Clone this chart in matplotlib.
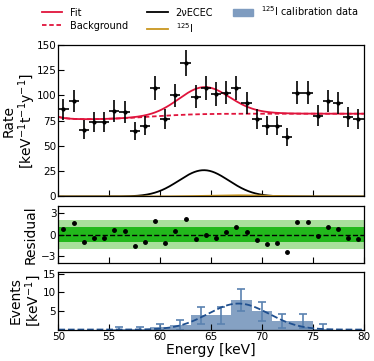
import numpy as np
import matplotlib
matplotlib.use("Agg")
import matplotlib.pyplot as plt
from matplotlib.patches import Patch
from matplotlib.lines import Line2D
from math import erf

# ---------------- data ----------------
energy = np.arange(50.5, 80.0, 1.0)  # bin centres [keV]
rate = [86.2, 94.5, 66.0, 73.3, 73.3, 84.5, 83.5, 64.7, 70.0, 107.0,
        76.6, 99.8, 132.0, 98.4, 107.4, 101.4, 102.7, 107.4, 92.2, 76.6,
        70.0, 70.0, 58.8, 102.7, 102.7, 80.0, 94.2, 92.2, 78.3, 76.6]
rate_err = [10.6, 11.1, 9.3, 9.8, 9.8, 10.5, 10.4, 9.2, 9.5, 11.8,
            10.0, 11.4, 13.1, 11.3, 11.8, 11.5, 11.6, 11.8, 10.9, 10.0,
            9.5, 9.5, 8.7, 11.6, 11.6, 10.2, 11.1, 10.9, 10.1, 10.0]
residual = [0.83, 1.57, -1.10, -0.42, -0.46, 0.69, 0.51, -1.53, -1.06, 1.90,
            -1.16, 0.42, 2.20, -0.65, -0.05, -0.42, 0.28, 1.10, 0.32, -0.79,
            -1.30, -1.20, -2.45, 1.76, 1.76, -0.19, 1.10, 0.83, -0.42, -0.56]

# fit model parameters
bg_level, bg_step, bg_step_mu, bg_step_sig = 76.0, 5.8, 59.0, 3.6
bg_tail_amp, bg_tail_tau = 2.6, 1.0
ecec_amp, ecec_mu, ecec_sig = 26.0, 64.3, 2.45
i125_amp, i125_mu, i125_sig = 1.2, 67.5, 3.0

# calibration data (125I)
calib_energy = [56, 58, 60, 62, 64, 66, 68, 70, 72, 74, 76]
calib_events = [0.25, 0.25, 0.8, 1.2, 3.9, 3.9, 8.0, 4.9, 2.3, 2.3, 0.2]
calib_err = [0.55, 0.55, 0.8, 1.4, 2.3, 2.3, 3.0, 2.5, 1.9, 1.9, 1.2]
calib_fit_amp, calib_fit_mu, calib_fit_sig = 7.0, 67.7, 3.0

# ---------------- model curves ----------------
E = np.linspace(50, 80, 600)
phi = np.array([0.5 * (1 + erf((e - bg_step_mu) / (bg_step_sig * np.sqrt(2)))) for e in E])
background = bg_level + bg_step * phi + bg_tail_amp * np.exp(-(E - 50) / bg_tail_tau)
ecec = ecec_amp * np.exp(-(E - ecec_mu) ** 2 / (2 * ecec_sig ** 2))
iodine = i125_amp * np.exp(-(E - i125_mu) ** 2 / (2 * i125_sig ** 2))
fit = background + ecec + iodine
calib_fit = calib_fit_amp * np.exp(-(E - calib_fit_mu) ** 2 / (2 * calib_fit_sig ** 2))

# ---------------- figure ----------------
plt.rcParams['font.family'] = ['DejaVu Sans']
fig = plt.figure(figsize=(3.74, 3.61), dpi=100)
L, W = 0.1561, 0.816
ax1 = fig.add_axes([L, 0.4557, W, 0.4205])
ax2 = fig.add_axes([L, 0.2706, W, 0.1596])
ax3 = fig.add_axes([L, 0.0870, W, 0.1587])

red = '#e0143c'
gold = '#c9961f'
blue_fill = '#7f9cc0'
blue_err = '#5a82b0'
blue_line = '#1f4f8f'

# main panel
ax1.plot(E, fit, color=red, lw=1.3)
ax1.plot(E, background, color=red, lw=1.3, ls=(0, (2.5, 1.5)))
ax1.plot(E, ecec, color='black', lw=1.3)
ax1.plot(E, iodine, color=gold, lw=1.3)
ax1.errorbar(energy, rate, yerr=rate_err, xerr=0.5, fmt='.', color='black',
             ms=4, elinewidth=1.2, capsize=0)
ax1.set_xlim(50, 80)
ax1.set_ylim(0, 150)
ax1.set_yticks([0, 25, 50, 75, 100, 125, 150])
ax1.set_ylabel('Rate\n[keV$^{-1}$t$^{-1}$y$^{-1}$]', fontsize=10, linespacing=1.0)

# residual panel
ax2.axhspan(-2, 2, color='#a8e09c', lw=0)
ax2.axhspan(-1, 1, color='#22b81c', lw=0)
ax2.axhline(0, color='black', ls='--', lw=1.0)
ax2.plot(energy, residual, 'o', color='black', ms=2.5)
ax2.set_xlim(50, 80)
ax2.set_ylim(-4, 4)
ax2.set_yticks([-3, 0, 3])
ax2.set_yticklabels(['\u22123', '0', '3'])
ax2.set_ylabel('Residual', fontsize=10)

# events panel
ax3.bar(calib_energy, calib_events, width=2.0, color=blue_fill, alpha=0.95, lw=0)
ax3.errorbar(calib_energy, calib_events, yerr=calib_err, fmt='none', ecolor=blue_err,
             elinewidth=1.2, capsize=3, capthick=1.2)
ax3.plot(E, calib_fit, color=blue_line, ls='--', lw=1.3)
ax3.set_xlim(50, 80)
ax3.set_ylim(0, 15.4)
ax3.set_yticks([5, 10, 15])
ax3.set_ylabel('Events\n[keV$^{-1}$]', fontsize=10, linespacing=1.0)
ax3.set_xlabel('Energy [keV]', fontsize=10, labelpad=1)

for ax in (ax1, ax2, ax3):
    ax.set_xticks([50, 55, 60, 65, 70, 75, 80])
    ax.tick_params(direction='in', length=4, width=0.8, labelsize=7.5, pad=1.5)
    for s in ax.spines.values():
        s.set_linewidth(0.9)
ax1.tick_params(labelbottom=False)
ax2.tick_params(labelbottom=False)

# y-label positions (right edge of the rotated text, in axes coords)
ax1.yaxis.set_label_coords(-0.068, 0.5)
ax2.yaxis.set_label_coords(-0.068, 0.5)
ax3.yaxis.set_label_coords(-0.052, 0.5)

handles = [Line2D([], [], color=red, lw=1.3),
           Line2D([], [], color=red, lw=1.3, ls=(0, (2.5, 1.5))),
           Line2D([], [], color='black', lw=1.3),
           Line2D([], [], color=gold, lw=1.3),
           Patch(color=blue_fill)]
labels = ['Fit', 'Background', '2\u03bdECEC', '$^{125}$I', '$^{125}$I calibration data']
fig.legend(handles, labels, ncol=3, loc='upper left', bbox_to_anchor=(0.088, 1.013),
           frameon=False, fontsize=7, columnspacing=2.0, handlelength=2.1,
           handletextpad=0.8, labelspacing=0.3, borderpad=0.4)

fig.savefig('out.png', dpi=100)
